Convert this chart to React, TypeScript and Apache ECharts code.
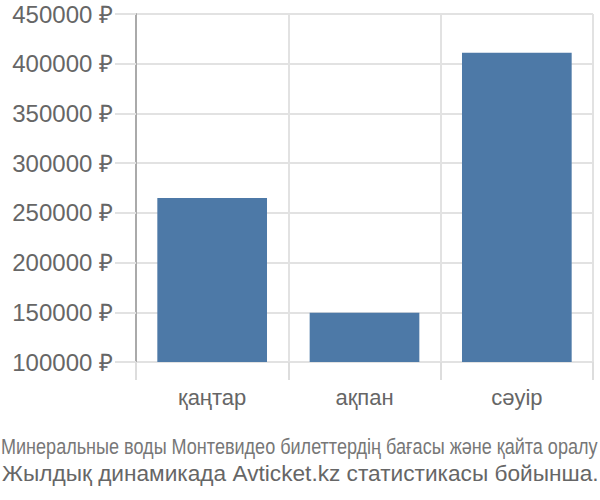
import React, { useEffect, useRef } from "react";
import * as echarts from "echarts";

const categories = ["қаңтар", "ақпан", "сәуір"];
const prices = [265000, 149500, 411000];
const footLine1 = "Минеральные воды Монтевидео билеттердің бағасы және қайта оралу";
const footLine2 = "Жылдық динамикада Avticket.kz статистикасы бойынша.";

export default function App() {
  const ref = useRef<HTMLDivElement>(null);
  useEffect(() => {
    document.body.style.margin = "0";
    if (!ref.current) return;
    const chart = echarts.init(ref.current, undefined, { renderer: "svg" });
    chart.setOption({
      animation: false,
      grid: { left: 136, right: 7, top: 14, bottom: 138, containLabel: false },
      xAxis: {
        type: "category",
        data: categories,
        axisLine: { show: false },
        axisTick: { show: true, length: 18, lineStyle: { color: "#dddddd", width: 2 } },
        splitLine: { show: true, lineStyle: { color: "#e2e2e2", width: 2 } },
        axisLabel: {
          color: "#666666",
          fontSize: 22,
          fontFamily: "Liberation Sans",
          margin: 24,
        },
      },
      yAxis: {
        type: "value",
        min: 100000,
        max: 450000,
        interval: 50000,
        axisLine: { show: true, lineStyle: { color: "#aaaaaa", width: 2 } },
        axisTick: { show: true, length: 21, lineStyle: { color: "#e2e2e2", width: 2 } },
        splitLine: { show: true, lineStyle: { color: "#e2e2e2", width: 2 } },
        axisLabel: {
          color: "#666666",
          fontSize: 24,
          fontFamily: "Liberation Sans",
          margin: 23,
          formatter: (v: number) => `${v} ₽`,
        },
      },
      series: [
        {
          type: "bar",
          data: prices,
          barWidth: "72%",
          itemStyle: { color: "#4d79a7" },
        },
      ],
      graphic: [
        {
          type: "text",
          x: 1,
          y: 446,
          scaleX: 0.836,
          style: {
            text: footLine1,
            fontSize: 21.6,
            fontFamily: "Liberation Sans",
            fill: "#777777",
            verticalAlign: "middle",
            align: "left",
          },
        },
        {
          type: "text",
          x: 2,
          y: 474,
          scaleX: 1.03,
          style: {
            text: footLine2,
            fontSize: 22,
            fontFamily: "Liberation Sans",
            fill: "#666666",
            verticalAlign: "middle",
            align: "left",
          },
        },
      ],
    });
    return () => chart.dispose();
  }, []);
  return <div ref={ref} style={{ width: 600, height: 500 }} />;
}
